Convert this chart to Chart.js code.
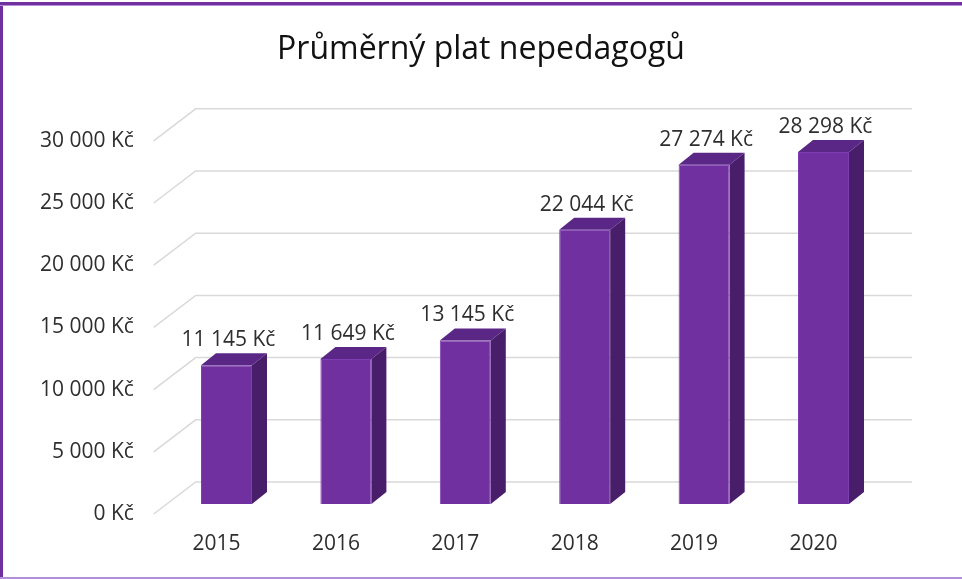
<!DOCTYPE html>
<html>
<head>
<meta charset="utf-8">
<script src="https://cdn.jsdelivr.net/npm/chart.js@4/dist/chart.umd.min.js"></script>
<style>
    html, body { margin: 0; padding: 0; background: #fff; }
    canvas { display: block; }
</style>
</head>
<body>
<canvas id="chart" width="962" height="579"></canvas>
<script>
const years = ['2015', '2016', '2017', '2018', '2019', '2020']
const salaries = [11145, 11649, 13145, 22044, 27274, 28298]
const yMin = 0
const yMax = 30000
const yStep = 5000

const barFront = '#7030a0'
const barTop = '#5a2787'
const barSide = '#481d69'
const textColor = '#2e2e2e'
const fontFamily = '"Open Sans", "Noto Sans", sans-serif'

// 3D look: bar depth and the floor/wall offsets relative to the bar front plane
const depth = { dx: 15, dy: 12 }
const wall = { dx: 28.9, dy: 22 }
const front = { dx: 13.1, dy: 10 }

function kc(v) {
    return String(v).replace(/\B(?=(\d{3})+(?!\d))/g, ' ') + ' Kč'
}

const chrome = {
    id: 'chrome',
    beforeDatasetsDraw(chart) {
        const { ctx, chartArea, scales } = chart
        const y = scales.y
        ctx.save()
        ctx.strokeStyle = '#d9d9d9'
        ctx.lineWidth = 1.5
        y.ticks.forEach(t => {
            const py = y.getPixelForValue(t.value)
            ctx.beginPath()
            ctx.moveTo(chartArea.left - front.dx, py + front.dy)
            ctx.lineTo(chartArea.left + wall.dx, py - wall.dy)
            ctx.lineTo(chartArea.right + wall.dx, py - wall.dy)
            ctx.stroke()
        })
        ctx.restore()
    },
    afterDatasetsDraw(chart) {
        const { ctx } = chart
        const meta = chart.getDatasetMeta(0)
        ctx.save()
        meta.data.forEach((bar, i) => {
            const x1 = bar.x - bar.width / 2
            const x2 = bar.x + bar.width / 2
            const top = bar.y
            const base = bar.base

            ctx.fillStyle = barTop
            ctx.beginPath()
            ctx.moveTo(x1, top)
            ctx.lineTo(x1 + depth.dx, top - depth.dy)
            ctx.lineTo(x2 + depth.dx, top - depth.dy)
            ctx.lineTo(x2, top)
            ctx.closePath()
            ctx.fill()

            ctx.fillStyle = barSide
            ctx.beginPath()
            ctx.moveTo(x2, top)
            ctx.lineTo(x2 + depth.dx, top - depth.dy)
            ctx.lineTo(x2 + depth.dx, base - depth.dy)
            ctx.lineTo(x2, base)
            ctx.closePath()
            ctx.fill()

            ctx.fillStyle = textColor
            ctx.font = '21px ' + fontFamily
            ctx.textAlign = 'center'
            ctx.textBaseline = 'middle'
            ctx.fillText(kc(salaries[i]), bar.x + 2, top - depth.dy - 13)
        })
        ctx.restore()
    },
    afterDraw(chart) {
        const { ctx, width, height } = chart
        ctx.save()
        ctx.fillStyle = '#7030a0'
        ctx.fillRect(0, 2, width, 3)
        ctx.fillRect(0, 2, 3, height - 2)
        ctx.fillStyle = '#b38fd9'
        ctx.fillRect(0, 5, width, 1)
        ctx.fillRect(0, height - 2, width, 2)
        ctx.restore()
    }
}

new Chart(document.getElementById('chart'), {
    type: 'bar',
    data: {
        labels: years,
        datasets: [{
            data: salaries,
            backgroundColor: barFront,
            borderColor: '#7d3db3',
            borderWidth: 1,
            categoryPercentage: 1,
            barPercentage: 0.427
        }]
    },
    options: {
        responsive: false,
        animation: false,
        layout: { padding: 0 },
        plugins: {
            legend: { display: false },
            tooltip: { enabled: false },
            title: {
                display: true,
                text: 'Průměrný plat nepedagogů',
                color: '#111',
                font: { family: fontFamily, size: 32, weight: 'normal' },
                padding: { top: 30.8, bottom: 61.6 }
            }
        },
        scales: {
            x: {
                grid: { display: false, drawTicks: false },
                border: { display: false },
                ticks: {
                    color: textColor,
                    font: { family: fontFamily, size: 21 },
                    padding: 27,
                    labelOffset: -10
                },
                afterFit(scale) { scale.height = 75 }
            },
            y: {
                min: yMin,
                max: yMax,
                grid: { display: false, drawTicks: false },
                border: { display: false },
                ticks: {
                    stepSize: yStep,
                    color: textColor,
                    font: { family: fontFamily, size: 21 },
                    padding: 33,
                    labelOffset: 10,
                    callback: v => kc(v)
                },
                afterFit(scale) { scale.width = 166.8 }
            },
            // empty right axis, only keeps room for the back wall
            yRight: {
                position: 'right',
                min: yMin,
                max: yMax,
                grid: { display: false, drawTicks: false },
                border: { display: false },
                ticks: { display: false },
                afterFit(scale) { scale.width = 78.8 }
            }
        }
    },
    plugins: [chrome]
})
</script>
</body>
</html>
